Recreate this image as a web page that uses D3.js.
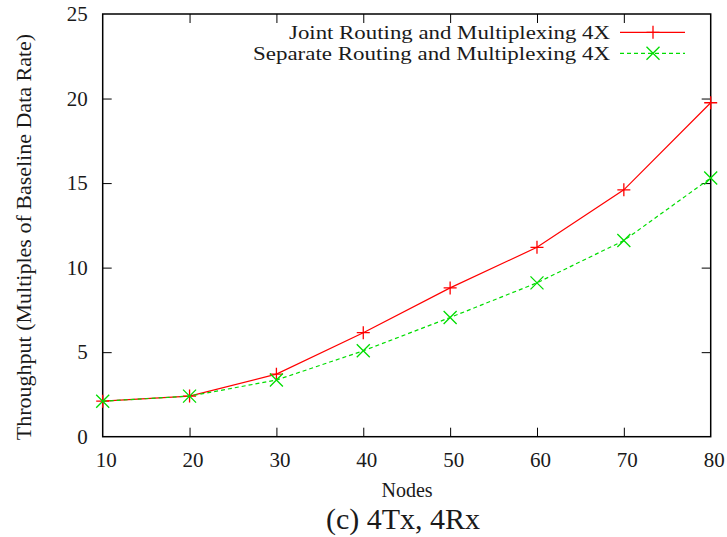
<!DOCTYPE html>
<html>
<head>
<meta charset="utf-8">
<script src="https://cdn.jsdelivr.net/npm/d3@7"></script>
<style>
  html, body { margin: 0; padding: 0; background: #fff; }
  svg { display: block; }
  text { font-family: "Liberation Serif", "Times New Roman", serif; fill: #1a1a1a; }
</style>
</head>
<body>
<svg id="chart" width="727" height="537"></svg>
<script>
// ---- data ----
const nodes = [10, 20, 30, 40, 50, 60, 70, 80];
const jointValues = [2.1, 2.4, 3.7, 6.15, 8.8, 11.2, 14.6, 19.75];
const separateValues = [2.1, 2.4, 3.35, 5.08, 7.05, 9.1, 11.6, 15.3];
const seriesNames = ["Joint Routing and Multiplexing 4X", "Separate Routing and Multiplexing 4X"];
const xTicks = [10, 20, 30, 40, 50, 60, 70, 80];
const yTicks = [0, 5, 10, 15, 20, 25];
const xTitle = "Nodes";
const yTitle = "Throughput (Multiples of Baseline Data Rate)";
const caption = "(c) 4Tx, 4Rx";

// ---- layout ----
const L = 102.7, R = 710.7, T = 14, B = 436.7;
const svg = d3.select("#chart");
const x = d3.scaleLinear().domain([10, 80]).range([L, R]);
const y = d3.scaleLinear().domain([0, 25]).range([B, T]);
const fs = 21;
const tickLen = 9;

// axes (inward ticks, mirrored)
const gx = svg.append("g").attr("transform", `translate(0,${B})`)
  .call(d3.axisBottom(x).tickValues(xTicks).tickSize(-tickLen).tickPadding(15).tickFormat(d3.format("d")));
const gxt = svg.append("g").attr("transform", `translate(0,${T})`)
  .call(d3.axisTop(x).tickValues(xTicks).tickSize(-tickLen).tickFormat(""));
const gy = svg.append("g").attr("transform", `translate(${L},0)`)
  .call(d3.axisLeft(y).tickValues(yTicks).tickSize(-tickLen).tickPadding(15).tickFormat(d3.format("d")));
const gyr = svg.append("g").attr("transform", `translate(${R},0)`)
  .call(d3.axisRight(y).tickValues(yTicks).tickSize(-tickLen).tickFormat(""));

[gx, gxt, gy, gyr].forEach(g => {
  g.select(".domain").remove();
  g.selectAll(".tick line").attr("stroke", "#000").attr("stroke-width", 1);
  g.selectAll(".tick text").attr("font-family", "Liberation Serif").attr("font-size", fs).attr("fill", "#1a1a1a");
});
gx.selectAll(".tick text").attr("dx", 3);
[gx, gxt].forEach(g => g.selectAll(".tick line").filter(d => d === 10 || d === 80).remove());
[gy, gyr].forEach(g => g.selectAll(".tick line").filter(d => d === 0 || d === 25).remove());

// border
svg.append("rect").attr("x", L).attr("y", T).attr("width", R - L).attr("height", B - T)
  .attr("fill", "none").attr("stroke", "#000").attr("stroke-width", 1.5);

// titles
svg.append("text").attr("x", 23).attr("y", 237)
  .attr("transform", "rotate(-90,23,237)").attr("text-anchor", "middle")
  .attr("dy", "0.35em").attr("font-size", 22).text(yTitle);
svg.append("text").attr("x", 407).attr("y", 497).attr("text-anchor", "middle")
  .attr("font-size", 20).text(xTitle);
svg.append("text").attr("x", 403).attr("y", 529).attr("text-anchor", "middle")
  .attr("font-size", 30).text(caption);

// series
const series = [
  { name: seriesNames[0], values: jointValues, color: "#ff0000", dash: null, marker: "plus", width: 321 },
  { name: seriesNames[1], values: separateValues, color: "#00dd00", dash: "4,3", marker: "cross", width: 357 }
];
const line = d3.line().x(d => x(d[0])).y(d => y(d[1]));

function marker(g, cx, cy, type, color) {
  const s = 6.5;
  const p = type === "plus"
    ? `M${cx - s},${cy}H${cx + s}M${cx},${cy - s}V${cy + s}`
    : `M${cx - s},${cy - s}L${cx + s},${cy + s}M${cx - s},${cy + s}L${cx + s},${cy - s}`;
  g.append("path").attr("d", p).attr("stroke", color).attr("stroke-width", 1.3).attr("fill", "none");
}

series.forEach((s, i) => {
  const pts = nodes.map((n, j) => [n, s.values[j]]);
  const g = svg.append("g");
  g.append("path").datum(pts).attr("d", line).attr("fill", "none")
    .attr("stroke", s.color).attr("stroke-width", 1.2)
    .attr("stroke-dasharray", s.dash);
  pts.forEach(p => marker(g, x(p[0]), y(p[1]), s.marker, s.color));

  // legend
  const ly = 32.3 + i * 21;
  svg.append("text").attr("x", 610).attr("y", ly + 6.5).attr("text-anchor", "end")
    .attr("font-size", 18.5).attr("textLength", s.width).attr("lengthAdjust", "spacingAndGlyphs")
    .text(s.name);
  svg.append("line").attr("x1", 620).attr("x2", 685).attr("y1", ly).attr("y2", ly)
    .attr("stroke", s.color).attr("stroke-width", 1.2).attr("stroke-dasharray", s.dash);
  marker(svg, 653, ly, s.marker, s.color);
});
</script>
</body>
</html>
